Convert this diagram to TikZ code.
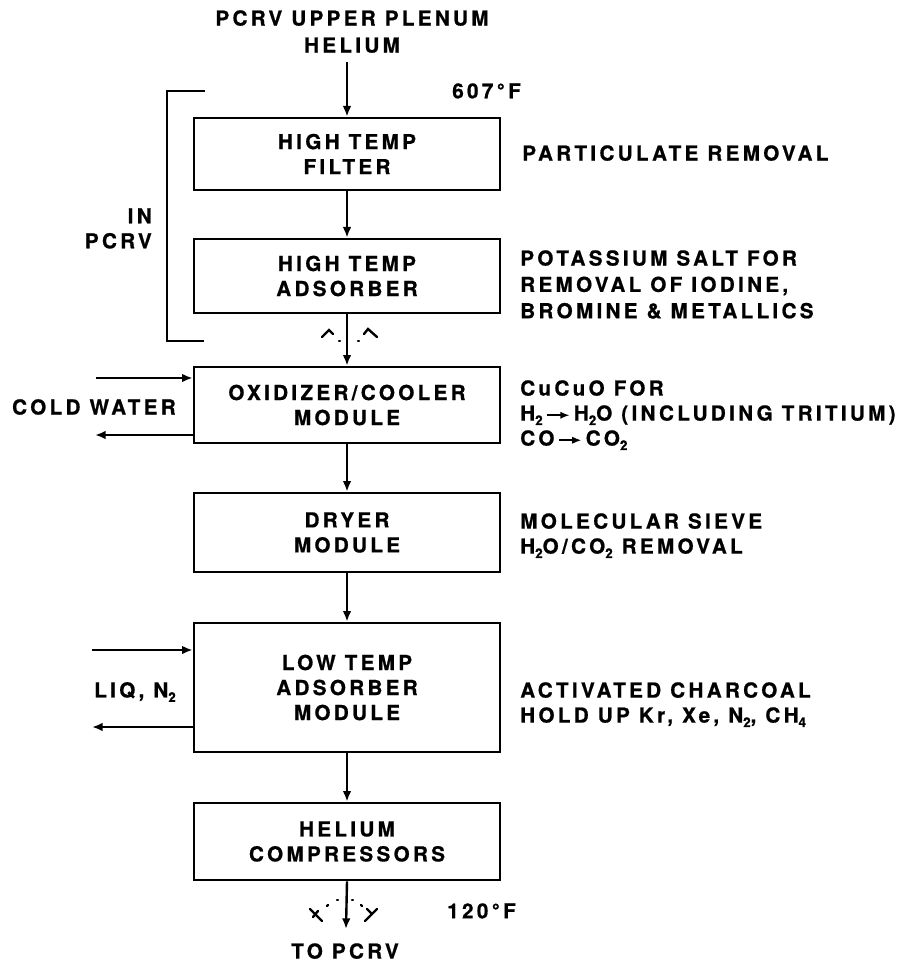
\documentclass[tikz,border=0pt]{standalone}
\usepackage{fontspec}
\setmainfont{TeX Gyre Heros}[LetterSpace=16, BoldFeatures={FakeBold=0.8}]
\usetikzlibrary{arrows.meta}
\newcommand{\sbs}[1]{\raisebox{-3.3pt}{\fontsize{10}{10}\selectfont #1}}
\newcommand{\rarr}{\tikz[baseline=-4pt]\draw[line width=1.3pt,-{Latex[length=7pt,width=5.5pt]}] (0pt,0pt) -- (17pt,0pt);}
\begin{document}
\begin{tikzpicture}[x=0.75pt,y=-0.75pt,
  every node/.style={font=\fontsize{15.5}{18.75}\selectfont\bfseries, inner sep=0pt},
  box/.style={draw, line width=2pt, minimum width=229.5pt, align=center},
  lbl/.style={align=left, anchor=north west},
  arr/.style={line width=1.8pt, -{Latex[length=8pt,width=6.5pt]}},
  brk/.style={line width=1.8pt, line cap=round},
  brkt/.style={line width=1.8pt}]
\useasboundingbox (0,0) rectangle (923,962);

% boxes
\node[box, minimum height=54pt]    (b1) at (347,154)   {HIGH TEMP\\FILTER};
\node[box, minimum height=55.5pt]  (b2) at (347,276)   {HIGH TEMP\\ADSORBER};
\node[box, minimum height=57pt]    (b3) at (347,405)   {OXIDIZER/COOLER\\MODULE};
\node[box, minimum height=59.25pt] (b4) at (347,532.5) {DRYER\\MODULE};
\node[box, minimum height=96.75pt] (b5) at (347,687.5) {LOW TEMP\\ADSORBER\\MODULE};
\node[box, minimum height=57.75pt] (b6) at (347,841.5) {HELIUM\\COMPRESSORS};

% top / bottom labels
\node[align=center, anchor=north] (top) at (352,10) {PCRV UPPER PLENUM\\[1.5pt]HELIUM};
\coordinate (inp) at (347,62);
\node[lbl] (t607) at (452,83) {607°F};
\node[anchor=north] (tout) at (345,943) {TO PCRV};
\coordinate (outp) at (346,929);
\node[lbl] (t120) at (447,903) {120°F};

% flow arrows
\draw[arr] (inp) -- (b1.north);
\draw[arr] (b1) -- (b2);
\draw[arr] (b2) -- (b3);
\draw[arr] (b3) -- (b4);
\draw[arr] (b4) -- (b5);
\draw[arr] (b5) -- (b6);
\draw[arr] (b6.south) -- (outp);

% in PCRV bracket
\coordinate (bk1) at (205,91);
\coordinate (bk2) at (167,91);
\coordinate (bk3) at (167,341);
\coordinate (bk4) at (204,341);
\draw[brkt] (bk1) -- (bk2) -- (bk3) -- (bk4);
\node[align=right, anchor=north east] (inpcrv) at (152,208) {IN\\PCRV};

% cold water
\coordinate (cwi) at (96,378);
\coordinate (cwo) at (95,435);
\draw[arr] (cwi) -- (cwi -| b3.west);
\draw[arr] (cwo -| b3.west) -- (cwo);
\node[anchor=east] (cw) at (176,407) {COLD WATER};

% liquid nitrogen
\coordinate (lni) at (92,650);
\coordinate (lno) at (92,727);
\draw[arr] (lni) -- (lni -| b5.west);
\draw[arr] (lno -| b5.west) -- (lno);
\node[anchor=east] (ln) at (176,692) {LIQ, N\sbs{2}};

% right-hand descriptions
\node[lbl] (d1) at (522,145) {PARTICULATE REMOVAL};
\node[lbl] (d2) at (520,250) {POTASSIUM SALT FOR\\[1pt]REMOVAL OF IODINE,\\[1pt]BROMINE \& METALLICS};
\node[lbl] (d3) at (520,380) {CuCuO FOR\\H\sbs{2}\,\rarr\,H\sbs{2}O (INCLUDING TRITIUM)\\CO\,\rarr\,CO\sbs{2}};
\node[lbl] (d4) at (520,513) {MOLECULAR SIEVE\\H\sbs{2}O/CO\sbs{2} REMOVAL};
\node[lbl] (d5) at (520,682) {ACTIVATED CHARCOAL\\HOLD UP Kr, Xe, N\sbs{2}, CH\sbs{4}};

% break symbols
\draw[brk] (322,337) -- (329,330) -- (333,334);
\draw[brk] (339,341) -- (340,341);
\draw[brk] (358,341) -- (359,341);
\draw[brk] (364,334) -- (368,329) -- (377,337);

\draw[brk] (310,909) -- (322,921);
\draw[brk] (313,917) -- (318,911);
\draw[brk] (327,906) -- (328,905);
\draw[brk] (337,900) -- (338,900);
\draw[brk] (352,900) -- (353,900);
\draw[brk] (361,905) -- (362,906);
\draw[brk] (377,909) -- (365,921);
\draw[brk] (367,909) -- (372,914);
\end{tikzpicture}
\end{document}
